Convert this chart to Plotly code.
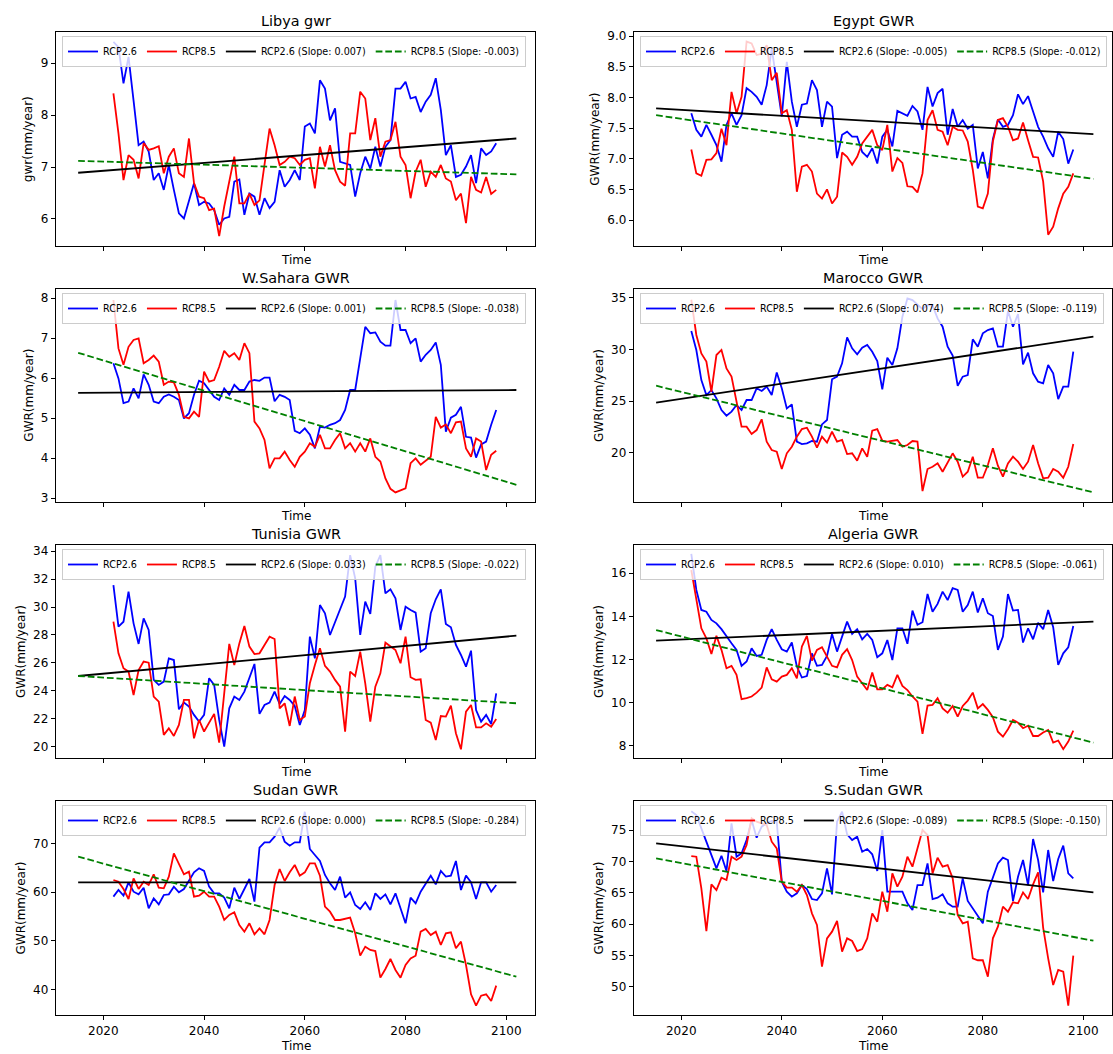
import plotly.graph_objects as go
import numpy as np

# ---------------- data ----------------
YEAR_START = 2022
TREND_YEARS = [2015, 2102]
X_TICKS = [2020, 2040, 2060, 2080, 2100]

TITLES = ["Libya gwr", "Egypt GWR", "W.Sahara GWR", "Marocco GWR",
          "Tunisia GWR", "Algeria GWR", "Sudan GWR", "S.Sudan GWR"]
YLABELS = ["gwr(mm/year)"] + ["GWR(mm/year)"] * 7
SLOPE_26 = ["0.007", "-0.005", "0.001", "0.074", "0.033", "0.010", "0.000", "-0.089"]
SLOPE_85 = ["-0.003", "-0.012", "-0.038", "-0.119", "-0.022", "-0.061", "-0.284", "-0.150"]

libya_rcp26 = [9.41, 9.31, 8.61, 9.12, 8.28, 7.42, 7.49, 7.30, 6.75, 6.88,
               6.56, 7.04, 6.56, 6.11, 6.01, 6.33, 6.69, 6.27, 6.33, 6.30,
               6.17, 5.89, 6.01, 6.04, 6.72, 6.76, 6.08, 6.49, 6.43, 6.08,
               6.40, 6.21, 6.33, 6.94, 6.62, 6.75, 6.94, 6.75, 7.78, 7.84,
               7.65, 8.67, 8.51, 7.90, 8.13, 7.10, 7.07, 7.04, 6.43, 6.88,
               7.20, 6.97, 7.39, 7.01, 7.39, 7.52, 8.51, 8.51, 8.64, 8.32,
               8.35, 8.06, 8.26, 8.39, 8.71, 8.10, 7.23, 7.42, 6.81, 6.85,
               7.01, 7.23, 6.69, 7.36, 7.23, 7.30, 7.46]
libya_rcp85 = [8.42, 7.65, 6.75, 7.23, 7.14, 6.78, 7.46, 7.33, 7.36, 7.40,
               6.88, 7.20, 7.36, 6.88, 6.81, 7.55, 6.69, 6.43, 6.40, 6.17,
               6.20, 5.67, 6.24, 6.75, 7.20, 6.30, 6.30, 6.49, 6.27, 6.36,
               7.07, 7.74, 7.42, 7.04, 7.10, 7.20, 7.17, 7.04, 7.14, 7.17,
               6.59, 7.39, 7.01, 7.42, 6.94, 6.72, 6.64, 7.65, 7.65, 8.45,
               8.32, 7.52, 7.94, 7.20, 7.49, 7.52, 7.87, 7.20, 7.04, 6.40,
               6.91, 7.14, 6.62, 6.91, 6.81, 7.04, 6.78, 6.72, 6.36, 6.49,
               5.92, 6.81, 6.56, 6.51, 6.81, 6.48, 6.56]

egypt_rcp26 = [7.74, 7.47, 7.36, 7.55, 7.39, 7.22, 6.95, 7.55, 7.74, 7.55,
               7.71, 8.15, 8.09, 8.01, 7.88, 8.20, 8.80, 8.28, 7.69, 8.58,
               7.93, 7.52, 7.88, 7.90, 8.28, 8.12, 7.52, 7.93, 7.85, 7.01,
               7.39, 7.44, 7.36, 7.36, 7.11, 7.03, 7.17, 6.92, 7.36, 7.47,
               7.20, 7.78, 7.74, 7.70, 7.86, 7.77, 7.47, 8.17, 7.85, 8.07,
               8.14, 7.39, 7.81, 7.52, 7.63, 7.49, 7.55, 6.84, 7.11, 6.68,
               7.32, 7.64, 7.52, 7.55, 7.71, 8.05, 7.89, 8.02, 7.77, 7.52,
               7.36, 7.17, 7.03, 7.44, 7.32, 6.92, 7.15]
egypt_rcp85 = [7.15, 6.76, 6.72, 6.98, 6.99, 7.09, 7.49, 7.22, 8.09, 7.74,
               8.01, 8.91, 8.88, 8.69, 8.71, 8.85, 8.28, 8.40, 7.74, 7.79,
               7.47, 6.46, 6.87, 6.90, 6.79, 6.43, 6.35, 6.50, 6.27, 6.38,
               7.10, 7.03, 6.90, 7.03, 7.25, 7.36, 7.47, 7.22, 7.14, 7.55,
               6.79, 7.01, 6.93, 6.55, 6.54, 6.45, 6.76, 7.63, 7.79, 7.47,
               7.44, 7.22, 7.52, 7.47, 7.46, 7.28, 6.82, 6.22, 6.19, 6.43,
               7.28, 7.63, 7.66, 7.52, 7.30, 7.33, 7.59, 7.30, 7.03, 7.02,
               6.63, 5.76, 5.89, 6.19, 6.43, 6.54, 6.76]

wsahara_rcp26 = [6.37, 5.99, 5.37, 5.41, 5.74, 5.49, 6.09, 5.83, 5.41, 5.37,
                 5.53, 5.59, 5.53, 5.45, 4.99, 5.12, 5.58, 5.93, 5.87, 5.70,
                 5.53, 5.45, 5.74, 5.58, 5.83, 5.70, 5.70, 5.91, 5.95, 5.93,
                 6.01, 6.01, 5.42, 5.58, 5.53, 5.45, 4.68, 4.62, 4.74, 4.58,
                 4.24, 4.78, 4.76, 4.83, 4.87, 4.95, 5.20, 5.70, 5.70, 6.49,
                 7.28, 7.12, 7.14, 6.91, 6.81, 6.81, 7.95, 7.20, 7.20, 6.87,
                 6.99, 6.41, 6.58, 6.70, 6.89, 6.33, 4.66, 5.01, 5.08, 5.28,
                 4.53, 4.51, 4.01, 4.34, 4.41, 4.83, 5.20]
wsahara_rcp85 = [7.95, 6.74, 6.33, 6.78, 6.95, 6.99, 6.37, 6.45, 6.56, 6.41,
                 5.83, 5.91, 5.89, 5.58, 5.03, 4.99, 5.16, 5.03, 6.16, 5.91,
                 5.95, 6.28, 6.68, 6.53, 6.62, 6.45, 6.87, 6.62, 4.91, 4.74,
                 4.45, 3.74, 3.99, 3.99, 4.16, 3.95, 3.78, 4.03, 4.16, 4.37,
                 4.28, 4.58, 4.24, 4.24, 4.45, 4.62, 4.24, 4.37, 4.16, 4.37,
                 4.16, 4.49, 4.03, 3.91, 3.49, 3.23, 3.14, 3.20, 3.24, 3.87,
                 3.99, 3.83, 3.93, 4.03, 5.03, 4.76, 4.84, 4.62, 4.89, 4.91,
                 4.24, 4.03, 4.49, 4.41, 3.70, 4.08, 4.18]

marocco_rcp26 = [31.78, 29.94, 27.03, 25.58, 26.06, 25.26, 24.13, 23.58, 23.97, 24.61,
                 24.13, 25.10, 25.10, 26.23, 25.97, 26.39, 25.58, 27.77, 26.23, 24.29,
                 24.68, 21.07, 20.84, 20.90, 21.13, 21.07, 22.74, 23.16, 27.10, 27.36,
                 28.65, 31.16, 30.10, 29.52, 30.16, 30.42, 29.77, 28.87, 26.12, 29.19,
                 28.48, 30.10, 33.16, 34.94, 34.77, 34.29, 33.90, 34.29, 34.23, 33.00,
                 32.19, 30.26, 29.39, 26.48, 27.36, 27.52, 30.97, 30.26, 31.55, 31.87,
                 32.03, 30.26, 30.26, 33.71, 32.19, 33.42, 28.55, 29.68, 27.68, 26.87,
                 26.71, 28.48, 27.68, 25.19, 26.39, 26.39, 29.77]
marocco_rcp85 = [34.80, 31.39, 29.61, 28.81, 25.90, 29.45, 29.94, 28.16, 27.36, 24.94,
                 22.52, 22.52, 21.81, 22.19, 23.23, 21.07, 20.26, 20.10, 18.42, 19.94,
                 20.58, 21.55, 22.29, 22.42, 21.55, 20.48, 21.55, 20.97, 22.03, 21.07,
                 21.23, 19.87, 19.94, 19.23, 20.42, 19.61, 22.13, 22.29, 21.16, 21.07,
                 21.16, 21.23, 20.58, 20.74, 21.13, 21.07, 16.29, 18.42, 18.64, 18.97,
                 18.16, 19.13, 19.94, 19.13, 17.68, 18.16, 19.61, 17.58, 17.58, 18.81,
                 20.42, 18.74, 17.68, 18.97, 19.61, 19.13, 18.42, 19.13, 20.74, 18.97,
                 17.52, 17.58, 18.42, 18.16, 17.58, 18.64, 20.84]

tunisia_rcp26 = [31.57, 28.60, 28.95, 31.10, 28.83, 27.36, 29.19, 28.36, 24.79, 24.43,
                 24.67, 26.33, 26.21, 22.69, 23.17, 22.88, 22.29, 21.81, 22.29, 24.91,
                 24.43, 21.93, 20.02, 22.76, 23.60, 23.36, 23.95, 25.02, 25.93, 22.36,
                 23.00, 23.17, 23.95, 23.07, 23.64, 23.36, 22.93, 21.57, 22.64, 27.88,
                 26.33, 30.14, 29.55, 28.00, 28.95, 29.90, 30.74, 33.70, 32.05, 28.00,
                 30.38, 29.50, 32.88, 33.70, 30.98, 31.26, 30.62, 28.36, 30.02, 29.79,
                 29.60, 26.81, 27.05, 29.55, 30.55, 31.26, 28.79, 28.55, 27.29, 26.57,
                 25.74, 26.88, 22.64, 21.81, 22.29, 21.64, 23.83]
tunisia_rcp85 = [28.95, 26.69, 25.62, 25.38, 23.71, 25.50, 26.10, 26.02, 23.60, 23.24,
                 20.86, 21.33, 20.79, 21.57, 23.36, 23.36, 20.62, 21.93, 21.10, 21.74,
                 22.36, 20.31, 23.60, 27.36, 25.86, 27.40, 28.64, 27.17, 26.64, 26.69,
                 27.29, 27.88, 27.71, 22.76, 23.12, 21.50, 23.60, 21.93, 22.17, 24.55,
                 25.86, 27.05, 25.79, 25.38, 24.79, 24.31, 21.10, 25.38, 25.07, 26.81,
                 24.55, 21.81, 24.31, 25.26, 27.45, 27.17, 26.93, 25.98, 27.88, 24.98,
                 24.79, 24.83, 21.93, 21.74, 20.50, 22.21, 22.17, 22.95, 20.98, 19.83,
                 22.52, 23.00, 21.40, 21.40, 21.69, 21.45, 22.00]

algeria_rcp26 = [16.90, 15.23, 14.30, 14.22, 13.84, 13.68, 13.41, 13.07, 12.76, 12.45,
                 11.71, 11.91, 12.52, 12.17, 12.22, 12.91, 13.41, 12.91, 12.48, 12.37,
                 12.79, 11.68, 11.17, 11.24, 12.29, 11.71, 11.75, 12.17, 13.19, 12.37,
                 13.07, 13.76, 13.19, 13.41, 12.94, 13.19, 12.91, 12.11, 12.29, 12.91,
                 11.98, 13.45, 13.45, 12.73, 14.27, 13.61, 13.73, 15.04, 14.22, 14.58,
                 15.15, 14.76, 15.31, 15.23, 14.22, 14.53, 15.15, 14.18, 14.84, 14.15,
                 14.02, 12.45, 13.07, 15.04, 14.27, 14.30, 12.79, 13.45, 12.94, 13.71,
                 13.41, 14.30, 13.50, 11.75, 12.29, 12.57, 13.56]
algeria_rcp85 = [16.15, 14.76, 13.45, 12.99, 12.26, 13.10, 12.45, 11.60, 11.71, 11.29,
                 10.17, 10.21, 10.29, 10.47, 10.70, 11.64, 11.09, 10.98, 11.21, 11.29,
                 11.60, 11.13, 12.60, 13.10, 11.95, 12.45, 12.57, 12.14, 11.71, 11.64,
                 12.22, 12.48, 11.98, 11.21, 10.90, 10.59, 11.40, 10.62, 10.62, 10.83,
                 10.72, 11.29, 10.78, 10.59, 10.29, 10.05, 8.56, 9.87, 9.90, 10.21,
                 9.74, 9.54, 9.85, 9.36, 9.85, 10.10, 10.47, 9.74, 9.94, 9.67,
                 9.33, 8.66, 8.43, 8.77, 9.20, 9.08, 8.82, 8.94, 8.46, 8.46,
                 8.62, 8.74, 8.15, 8.25, 7.85, 8.20, 8.71]

sudan_rcp26 = [59.06, 60.42, 59.26, 62.00, 60.08, 59.53, 60.90, 56.66, 58.71, 57.48,
               59.40, 59.53, 61.11, 59.95, 60.63, 62.27, 64.05, 64.88, 64.33, 61.11,
               59.74, 59.74, 58.85, 56.66, 60.90, 58.58, 60.77, 62.68, 58.03, 69.12,
               70.22, 70.22, 71.38, 73.23, 70.36, 69.53, 70.22, 70.22, 76.50, 68.85,
               67.62, 66.38, 63.51, 61.79, 60.42, 63.17, 58.85, 59.95, 57.34, 56.52,
               57.89, 56.32, 59.74, 58.58, 59.53, 57.48, 59.74, 56.66, 53.58, 58.85,
               57.69, 60.08, 61.79, 63.37, 61.59, 64.33, 63.17, 63.37, 66.38, 60.42,
               63.37, 62.00, 58.58, 62.00, 62.00, 60.08, 61.45]
sudan_rcp85 = [62.48, 62.14, 60.63, 58.58, 62.82, 60.63, 62.14, 61.45, 63.65, 60.90,
               60.77, 63.17, 67.96, 65.90, 63.65, 64.19, 59.06, 59.26, 60.08, 59.06,
               59.06, 57.00, 54.26, 55.29, 55.84, 53.23, 51.86, 53.58, 51.32, 52.55,
               51.32, 54.26, 61.45, 64.74, 62.27, 64.05, 65.56, 63.37, 64.05, 65.90,
               65.90, 63.37, 57.00, 55.97, 54.26, 54.26, 54.47, 54.74, 51.52, 46.93,
               48.78, 48.10, 47.89, 42.41, 44.19, 46.25, 43.99, 42.41, 45.01, 46.38,
               46.93, 51.86, 52.41, 51.18, 51.86, 49.12, 51.52, 51.73, 48.44, 49.81,
               45.01, 38.99, 36.66, 38.71, 38.99, 37.62, 40.77]

ssudan_rcp26 = [78.00, 77.39, 75.27, 73.14, 71.28, 68.88, 70.90, 68.46, 76.06, 70.74,
                71.28, 73.40, 76.60, 73.78, 75.53, 76.06, 76.44, 76.33, 66.76, 65.16,
                64.36, 64.89, 66.22, 65.59, 63.99, 63.83, 64.89, 68.88, 64.73, 76.33,
                77.93, 74.31, 73.40, 73.94, 71.54, 71.97, 71.12, 68.46, 75.00, 65.16,
                65.16, 65.16, 65.16, 63.30, 62.23, 66.22, 66.22, 69.68, 63.99, 64.20,
                64.73, 63.30, 62.77, 62.77, 67.29, 63.67, 62.50, 61.44, 60.11, 65.16,
                67.55, 69.68, 70.59, 70.21, 63.67, 67.55, 70.21, 66.22, 73.56, 70.21,
                65.05, 71.81, 66.86, 70.37, 72.50, 68.08, 67.29]
ssudan_rcp85 = [70.85, 70.74, 65.69, 58.88, 66.33, 65.43, 67.39, 67.02, 70.74, 70.21,
                70.74, 72.61, 76.86, 76.33, 76.06, 75.80, 73.14, 72.07, 66.76, 65.80,
                65.80, 65.16, 66.22, 64.63, 61.70, 59.84, 53.19, 57.71, 58.78, 60.48,
                55.59, 57.71, 57.29, 55.69, 56.01, 57.71, 61.70, 60.37, 65.16, 61.97,
                68.08, 65.96, 67.55, 70.74, 69.15, 71.97, 75.00, 74.20, 68.08, 70.59,
                69.15, 69.41, 67.29, 61.44, 60.11, 60.37, 54.52, 54.22, 54.22, 51.60,
                57.71, 59.57, 62.77, 61.97, 63.46, 63.30, 65.05, 63.99, 66.33, 68.24,
                59.41, 54.52, 50.27, 52.66, 52.39, 46.97, 54.95]

# fitted trend lines: value at TREND_YEARS[0], TREND_YEARS[1]
trend_rcp26 = [[6.89, 7.55], [7.82, 7.40], [5.63, 5.70], [24.84, 31.23],
               [25.07, 27.95], [12.88, 13.76], [62.00, 62.00], [72.87, 65.05]]
trend_rcp85 = [[7.12, 6.86], [7.71, 6.67], [6.63, 3.33], [26.48, 16.16],
               [25.07, 23.12], [13.37, 8.15], [67.27, 42.62], [70.48, 57.34]]

Y_RANGES = [[5.48, 9.60], [5.576, 9.066], [2.90, 8.225], [15.23, 35.84],
            [19.21, 34.43], [7.44, 17.31], [34.74, 78.71], [45.48, 79.63]]
Y_DTICK = [1, 0.5, 1, 5, 2, 2, 10, 5]
Y_TICKS0 = [6, 6.0, 3, 20, 20, 8, 40, 50]
Y_TICKFMT = ["d", ".1f", "d", "d", "d", "d", "d", "d"]

SERIES_26 = [libya_rcp26, egypt_rcp26, wsahara_rcp26, marocco_rcp26,
             tunisia_rcp26, algeria_rcp26, sudan_rcp26, ssudan_rcp26]
SERIES_85 = [libya_rcp85, egypt_rcp85, wsahara_rcp85, marocco_rcp85,
             tunisia_rcp85, algeria_rcp85, sudan_rcp85, ssudan_rcp85]

# ---------------- layout geometry ----------------
W, H = 1113, 1054
COL_PX = [(56, 535), (634, 1112)]
ROW_PX = [(32, 246), (289, 502), (545, 758), (801, 1015)]
X_RANGE = [2010.6, 2105.7]
FONT = "DejaVu Sans"
TICK_FS = 12
TITLE_FS = 14.4
LEG_FS = 9.6
LW = 1.8

fig = go.Figure()
layout = dict(width=W, height=H, margin=dict(l=0, r=0, t=0, b=0),
              paper_bgcolor="white", plot_bgcolor="white",
              font=dict(family=FONT, size=TICK_FS, color="black"),
              showlegend=True, annotations=[])

def text_w(s, fs):
    w = 0
    for ch in s:
        w += 0.318 if ch == "." else (0.361 if ch == "-" else 0.636)
    return w * fs

for i in range(8):
    r, c = divmod(i, 2)
    ax = "" if i == 0 else str(i + 1)
    xa, ya = "x" + ax, "y" + ax
    leg = "legend" if i == 0 else "legend" + str(i + 1)
    x0p, x1p = COL_PX[c]
    y0p, y1p = ROW_PX[r]
    xdom = [x0p / W, x1p / W]
    ydom = [1 - y1p / H, 1 - y0p / H]

    yrs = np.arange(YEAR_START, YEAR_START + len(SERIES_26[i]))
    yrs85 = np.arange(YEAR_START, YEAR_START + len(SERIES_85[i]))
    fig.add_trace(go.Scatter(x=yrs, y=SERIES_26[i], mode="lines", name="RCP2.6",
                             line=dict(color="#0000ff", width=LW), xaxis=xa, yaxis=ya, legend=leg))
    fig.add_trace(go.Scatter(x=yrs85, y=SERIES_85[i], mode="lines", name="RCP8.5",
                             line=dict(color="#ff0000", width=LW), xaxis=xa, yaxis=ya, legend=leg))
    fig.add_trace(go.Scatter(x=TREND_YEARS, y=trend_rcp26[i], mode="lines",
                             name="RCP2.6 (Slope: %s)" % SLOPE_26[i],
                             line=dict(color="black", width=LW), xaxis=xa, yaxis=ya, legend=leg))
    fig.add_trace(go.Scatter(x=TREND_YEARS, y=trend_rcp85[i], mode="lines",
                             name="RCP8.5 (Slope: %s)" % SLOPE_85[i],
                             line=dict(color="#008000", width=LW, dash="6.7px,2.9px"),
                             xaxis=xa, yaxis=ya, legend=leg))

    common = dict(showline=True, mirror=True, linecolor="black", linewidth=1.1,
                  ticks="outside", ticklen=4.2, tickwidth=1.1, tickcolor="black",
                  showgrid=False, zeroline=False, automargin=False,
                  tickfont=dict(family=FONT, size=TICK_FS, color="black"))
    layout["xaxis" + ax] = dict(domain=xdom, range=X_RANGE, anchor=ya,
                                tickmode="array", tickvals=X_TICKS,
                                ticktext=[str(t) for t in X_TICKS],
                                showticklabels=(r == 3), **common)
    layout["yaxis" + ax] = dict(domain=ydom, range=Y_RANGES[i], anchor=xa,
                                tick0=Y_TICKS0[i], dtick=Y_DTICK[i],
                                tickformat=Y_TICKFMT[i], **common)

    layout[leg] = dict(x=(x0p + 6) / W, y=1 - (y0p + 4) / H, xanchor="left", yanchor="top",
                       orientation="h", bgcolor="rgba(255,255,255,0.8)",
                       bordercolor="#cccccc", borderwidth=1, itemwidth=30,
                       font=dict(family=FONT, size=LEG_FS, color="black"),
                       tracegroupgap=0)

    # title
    layout["annotations"].append(dict(text=TITLES[i], x=(xdom[0] + xdom[1]) / 2, y=ydom[1],
                                      xref="paper", yref="paper", xanchor="center",
                                      yanchor="bottom", yshift=2, borderpad=0, showarrow=False,
                                      font=dict(family=FONT, size=TITLE_FS, color="black")))
    # x label
    layout["annotations"].append(dict(text="Time", x=(xdom[0] + xdom[1]) / 2, y=ydom[0],
                                      xref="paper", yref="paper", xanchor="center",
                                      yanchor="top", yshift=(-23 if r == 3 else -6),
                                      borderpad=0, showarrow=False,
                                      font=dict(family=FONT, size=TICK_FS, color="black")))
    # y label
    lo, hi = Y_RANGES[i]
    tv = Y_TICKS0[i]
    maxw = 0
    while tv <= hi + 1e-9:
        if tv >= lo:
            s = ("%.1f" % tv) if Y_TICKFMT[i] == ".1f" else str(int(round(tv)))
            maxw = max(maxw, text_w(s, TICK_FS))
        tv += Y_DTICK[i]
    off = 4.2 + 4.2 + maxw + 4.8 + 7
    layout["annotations"].append(dict(text=YLABELS[i], x=(x0p - off) / W, y=(ydom[0] + ydom[1]) / 2,
                                      xref="paper", yref="paper", xanchor="center",
                                      yanchor="middle", textangle=-90, showarrow=False,
                                      font=dict(family=FONT, size=TICK_FS, color="black")))

fig.update_layout(**layout)
fig.write_html("out.html")
